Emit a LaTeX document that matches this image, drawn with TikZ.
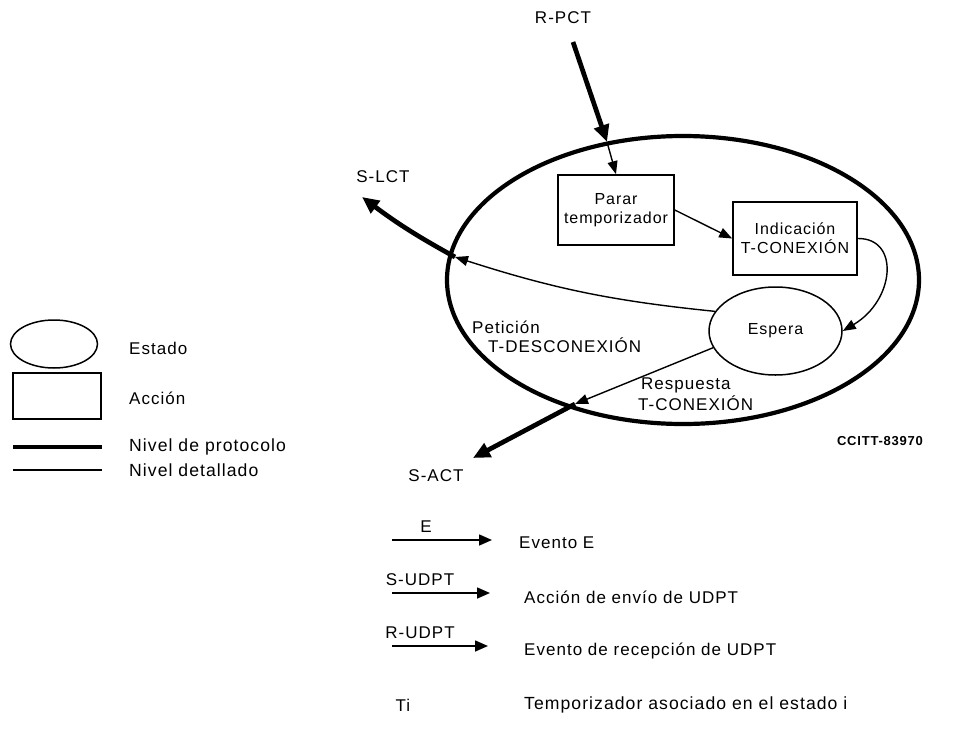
\documentclass[tikz,border=0pt]{standalone}
\usepackage{fontspec}
\setmainfont{Liberation Sans}[LetterSpace=6]
\usetikzlibrary{arrows.meta,shapes.geometric}
\begin{document}
\begin{tikzpicture}[x=1pt,y=-1pt,
  every node/.style={font=\fontsize{17}{19}\selectfont, inner sep=1pt},
  lbl/.style={anchor=west},
  wide/.style={font=\fontsize{17.6}{19}\selectfont},
  inner/.style={font=\fontsize{16}{19}\selectfont},
  thickln/.style={line width=4.7pt, -{Triangle[length=17pt,width=15pt]}},
  thickpl/.style={line width=4.7pt},
  thinln/.style={line width=1.4pt, -{Triangle[length=13pt,width=10pt]}},
  legln/.style={line width=1.6pt, -{Triangle[length=13pt,width=11pt]}},
  actbox/.style={draw, line width=1.6pt, rectangle, align=center, inner sep=0pt},
  stateell/.style={draw, ellipse, inner sep=0pt},
  code/.style={font=\bfseries\fontsize{13}{15}\selectfont}]
\useasboundingbox (0,0) rectangle (954,747);

% main state (protocol level)
\node[stateell, line width=4.2pt, minimum width=472pt, minimum height=288pt] (state) at (683,280) {};

% actions and inner state
\node[actbox, inner, minimum width=116pt, minimum height=70pt] (parar) at (616,210) {Parar\\temporizador};
\node[actbox, inner, minimum width=124pt, minimum height=73pt] (indic) at (795,238.5) {Indicación\\T-CONEXIÓN};
\node[stateell, inner, line width=1.5pt, minimum width=133pt, minimum height=88pt] (espera) at (775.5,331) {Espera};

% labels
\node (rpct) at (563,18) {R-PCT};
\node (slct) at (383,177) {S-LCT};
\node (sact) at (436,476) {S-ACT};
\node[lbl] (pet1) at (471,327) {Petición};
\node[lbl] (pet2) at (487,345) {T-DESCONEXIÓN};
\node[lbl] (res1) at (640,385) {Respuesta};
\node[lbl] (res2) at (637,403) {T-CONEXIÓN};
\node[code] (ccitt) at (880,441) {CCITT-83970};

% crossing points on the big ellipse and free arrow ends
\coordinate (rs) at (573,42);
\coordinate (rin) at (607,142);
\coordinate (lc) at (455,257);
\coordinate (lctip) at (362,197);
\coordinate (ac) at (575,404);
\coordinate (actip) at (473,458);

% connectors
\draw[thickln] (rs) -- (rin);
\draw[thinln] (rin) -- (parar.north);
\draw[thinln] (parar.east) -- (indic.west);
\draw[thinln] (indic.east) .. controls (900,238) and (895,300) .. (espera.east);
\draw[thinln] (espera.162) to[bend left=6] (lc);
\draw[thickln] (lc) to[bend left=4] (lctip);
\draw[thinln] (espera.195) -- (ac);
\draw[thickln] (ac) -- (actip);

% legend (left)
\node[stateell, line width=1.5pt, minimum width=87pt, minimum height=48pt] (lgell) at (54,344) {};
\node[lbl] (lgest) at (128,348) {Estado};
\node[actbox, minimum width=88pt, minimum height=46pt] (lgbox) at (57,396) {};
\node[lbl] (lgacc) at (128,398) {Acción};
\node[lbl, wide] (lgprot) at (128,447) {Nivel de protocolo};
\node[lbl, wide] (lgdet) at (128,470) {Nivel detallado};
\coordinate (p1) at (13,447);
\draw[thickpl] (p1) -- (lgprot.west -| 102,0);
\coordinate (d1) at (13,470);
\draw[line width=1.4pt] (d1) -- (lgdet.west -| 102,0);

% legend (bottom)
\coordinate (e1) at (392,540);
\coordinate (e2) at (492,540);
\draw[legln] (e1) -- (e2);
\node (le) at (426,527) {E};
\node[lbl] (lev) at (518,543) {Evento E};

\coordinate (s1) at (392,593);
\coordinate (s2) at (490,593);
\draw[legln] (s1) -- (s2);
\node (ls) at (420,580) {S-UDPT};
\node[lbl] (lsv) at (523,597) {Acción de envío de UDPT};

\coordinate (r1) at (392,646);
\coordinate (r2) at (488,646);
\draw[legln] (r1) -- (r2);
\node (lr) at (420,633) {R-UDPT};
\node[lbl] (lrv) at (523,651) {Evento de recepción de UDPT};

\node (lti) at (403,705) {Ti};
\node[lbl, wide] (ltv) at (523,705) {Temporizador asociado en el estado i};
\end{tikzpicture}
\end{document}
